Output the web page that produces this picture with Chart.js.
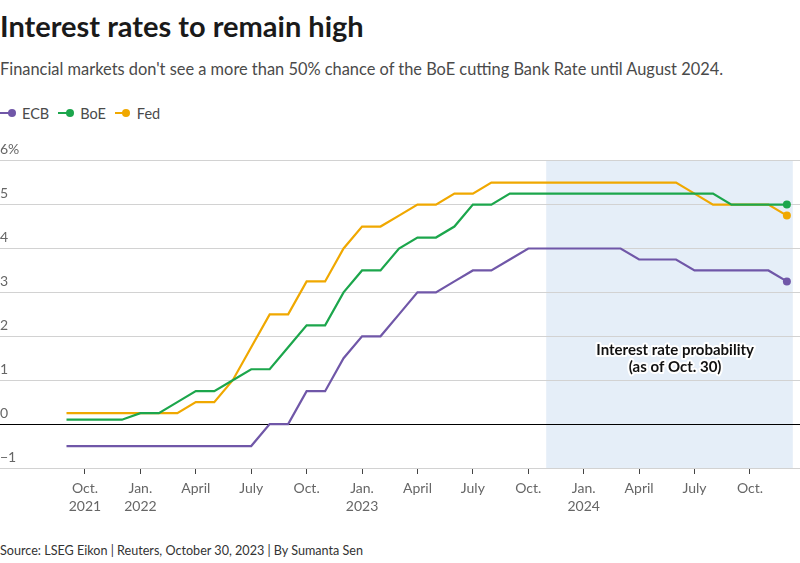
<!DOCTYPE html>
<html>
<head>
<meta charset="utf-8">
<script src="https://cdn.jsdelivr.net/npm/chart.js@4.4.1/dist/chart.umd.min.js"></script>
<style>
  html,body{margin:0;padding:0;background:#fff;}
  body{width:800px;height:563px;position:relative;overflow:hidden;font-family:Lato,"Noto Sans",sans-serif;}
  #title{position:absolute;left:0;top:9px;font-size:29px;line-height:34px;font-weight:700;color:#1a1a1a;white-space:nowrap;}
  #subtitle{position:absolute;left:0;top:59px;font-size:16.4px;line-height:20px;color:#4a4a4a;white-space:nowrap;}
  #legend{position:absolute;left:0;top:104px;height:18px;display:flex;align-items:center;font-size:14.5px;color:#4a4a4a;}
  .item{display:flex;align-items:center;margin-right:9px;}
  .mk{position:relative;width:15px;height:9px;margin-right:7px;}
  .mk .ln{position:absolute;left:0;top:3.5px;width:13px;height:2px;}
  .mk .dt{position:absolute;left:7.5px;top:0.5px;width:8px;height:8px;border-radius:50%;}
  #source{position:absolute;left:0;top:543px;font-size:12.6px;line-height:16px;color:#333;white-space:nowrap;}
  #c{position:absolute;left:0;top:130px;}
</style>
</head>
<body>
<div id="title">Interest rates to remain high</div>
<div id="subtitle">Financial markets don't see a more than 50% chance of the BoE cutting Bank Rate until August 2024.</div>
<div id="legend"></div>
<canvas id="c" width="800" height="400"></canvas>
<div id="source">Source: LSEG Eikon | Reuters, October 30, 2023 | By Sumanta Sen</div>
<script>
// Months: Sep 2021 ... Dec 2024 (index 0 = Sep 2021)
const months = [
  'Sep 2021','Oct 2021','Nov 2021','Dec 2021',
  'Jan 2022','Feb 2022','Mar 2022','Apr 2022','May 2022','Jun 2022','Jul 2022','Aug 2022','Sep 2022','Oct 2022','Nov 2022','Dec 2022',
  'Jan 2023','Feb 2023','Mar 2023','Apr 2023','May 2023','Jun 2023','Jul 2023','Aug 2023','Sep 2023','Oct 2023','Nov 2023','Dec 2023',
  'Jan 2024','Feb 2024','Mar 2024','Apr 2024','May 2024','Jun 2024','Jul 2024','Aug 2024','Sep 2024','Oct 2024','Nov 2024','Dec 2024'
];
const ecb = [
  -0.5,-0.5,-0.5,-0.5,
  -0.5,-0.5,-0.5,-0.5,-0.5,-0.5,-0.5,0,0,0.75,0.75,1.5,
  2.0,2.0,2.5,3.0,3.0,3.25,3.5,3.5,3.75,4.0,4.0,4.0,
  4.0,4.0,4.0,3.75,3.75,3.75,3.5,3.5,3.5,3.5,3.5,3.25
];
const boe = [
  0.1,0.1,0.1,0.1,
  0.25,0.25,0.5,0.75,0.75,1.0,1.25,1.25,1.75,2.25,2.25,3.0,
  3.5,3.5,4.0,4.25,4.25,4.5,5.0,5.0,5.25,5.25,5.25,5.25,
  5.25,5.25,5.25,5.25,5.25,5.25,5.25,5.25,5.0,5.0,5.0,5.0
];
const fed = [
  0.25,0.25,0.25,0.25,
  0.25,0.25,0.25,0.5,0.5,1.0,1.75,2.5,2.5,3.25,3.25,4.0,
  4.5,4.5,4.75,5.0,5.0,5.25,5.25,5.5,5.5,5.5,5.5,5.5,
  5.5,5.5,5.5,5.5,5.5,5.5,5.25,5.0,5.0,5.0,5.0,4.75
];
const seriesNames = ['ECB','BoE','Fed'];
const seriesColors = ['#7057a8','#1ca64c','#f0a800'];

const xTickIdx = [1,4,7,10,13,16,19,22,25,28,31,34,37];
const xTickLabels = [['Oct.','2021'],['Jan.','2022'],'April','July','Oct.',['Jan.','2023'],'April','July','Oct.',['Jan.','2024'],'April','July','Oct.'];
const yTickVals = [-1,0,1,2,3,4,5,6];
const yTickLabels = ['\u22121','0','1','2','3','4','5','6%'];

const forecastRange = [25.97, 39.32];   // Oct 30, 2023 onward (month index)
const annotationLines = ['Interest rate probability','(as of Oct. 30)'];
const annotationAt = [32.95, 1.48];      // month index, rate

// legend
const lg = document.getElementById('legend');
seriesNames.forEach((n,i)=>{
  const it = document.createElement('div'); it.className='item';
  it.innerHTML = '<div class="mk"><div class="ln" style="background:'+seriesColors[i]+'"></div><div class="dt" style="background:'+seriesColors[i]+'"></div></div><span>'+n+'</span>';
  lg.appendChild(it);
});

const shadePlugin = {
  id:'shade',
  beforeDraw(chart){
    const {ctx, chartArea, scales:{x}} = chart;
    const x0 = x.getPixelForValue(forecastRange[0]);
    const x1 = x.getPixelForValue(forecastRange[1]);
    ctx.save();
    ctx.fillStyle = '#e5eef8';
    ctx.fillRect(x0, chartArea.top, x1-x0, chartArea.bottom-chartArea.top);
    ctx.restore();
  },
  afterDatasetsDraw(chart){
    const {ctx, scales:{x,y}} = chart;
    const px = x.getPixelForValue(annotationAt[0]);
    const py = y.getPixelForValue(annotationAt[1]);
    ctx.save();
    ctx.font = 'bold 15px Lato, "Noto Sans", sans-serif';
    ctx.textAlign = 'center';
    ctx.textBaseline = 'middle';
    ctx.lineJoin = 'round';
    ctx.lineWidth = 4;
    ctx.strokeStyle = '#fff';
    ctx.fillStyle = '#111';
    const lh = 17;
    annotationLines.forEach((t,i)=>{
      const ty = py + (i - (annotationLines.length-1)/2)*lh;
      ctx.strokeText(t, px, ty);
      ctx.fillText(t, px, ty);
    });
    ctx.restore();
  }
};

const toXY = arr => arr.map((v,i)=>({x:i, y:v}));
const lastOnly = (ctx) => ctx.dataIndex === ctx.dataset.data.length-1 ? 4 : 0;

new Chart(document.getElementById('c'), {
  type:'line',
  data:{
    datasets:[ecb,boe,fed].map((d,i)=>({
      label: seriesNames[i],
      data: toXY(d),
      borderColor: seriesColors[i],
      backgroundColor: seriesColors[i],
      borderWidth: 2.2,
      pointRadius: lastOnly,
      pointHoverRadius: 0,
      pointBorderWidth: 0,
      tension: 0,
      fill: false
    }))
  },
  options:{
    responsive:false,
    animation:false,
    layout:{autoPadding:false, padding:{top:30.7,left:0,right:0,bottom:0}},
    plugins:{legend:{display:false}, tooltip:{enabled:false}},
    scales:{
      x:{
        type:'linear', min:-3.6, max:39.71,
        afterFit(s){ s.height = 62; },
        afterBuildTicks(s){ s.ticks = xTickIdx.map(v=>({value:v})); },
        grid:{drawOnChartArea:false, drawTicks:true, tickLength:6, tickColor:'#444', lineWidth:1},
        border:{display:false},
        ticks:{autoSkip:false, maxRotation:0, minRotation:0, padding:5, color:'#666',
          font:{family:'Lato', size:14, lineHeight:1.3},
          callback:(v,i)=>xTickLabels[i]}
      },
      y:{
        min:-1, max:6,
        afterFit(s){ s.width = 0; },
        afterBuildTicks(s){ s.ticks = yTickVals.map(v=>({value:v})); },
        grid:{color:(c)=> c.tick && c.tick.value===0 ? '#000' : '#d2d2d2', lineWidth:1, drawTicks:false},
        border:{display:false},
        ticks:{mirror:true, labelOffset:-11, padding:0, color:'#666',
          font:{family:'Lato', size:14},
          callback:(v,i)=>yTickLabels[i]}
      }
    }
  },
  plugins:[shadePlugin]
});
</script>
</body>
</html>
